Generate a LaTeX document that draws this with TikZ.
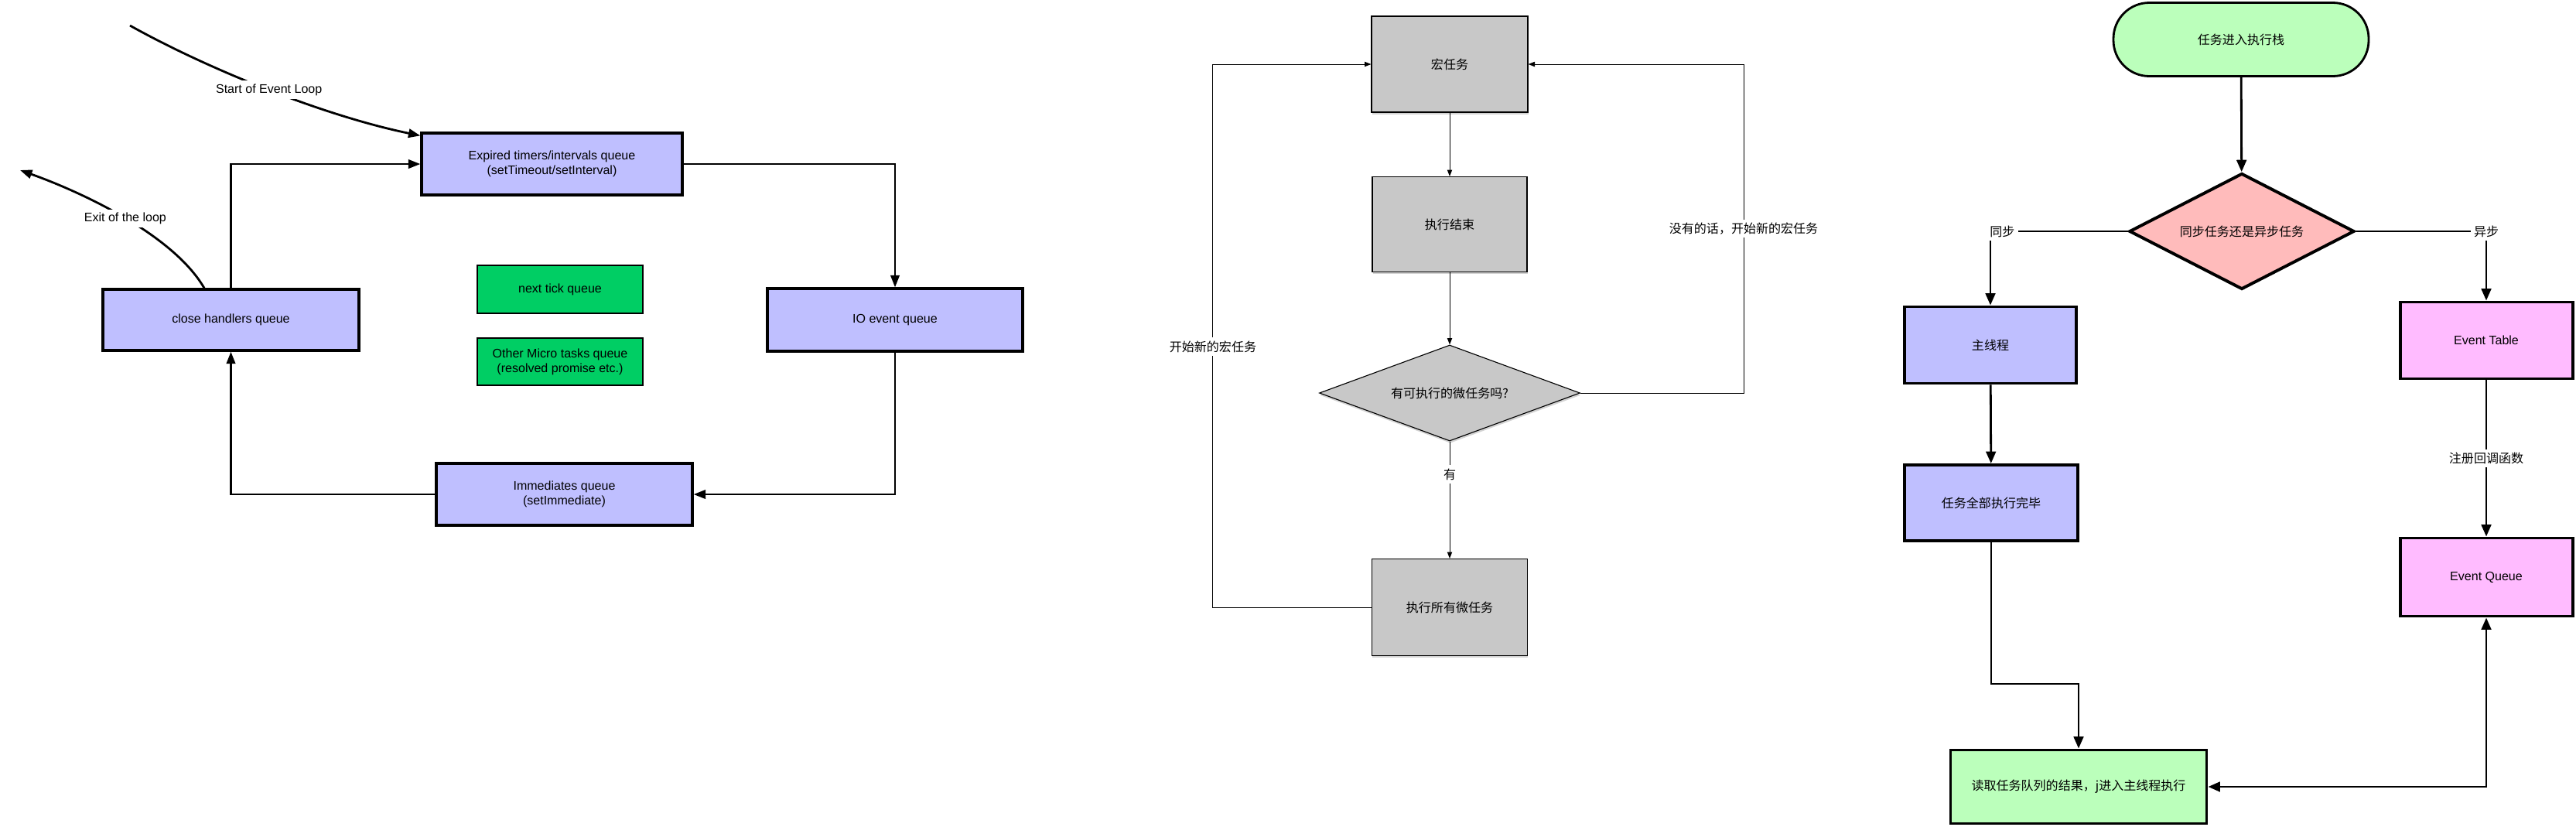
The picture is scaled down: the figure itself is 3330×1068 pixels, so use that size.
\documentclass[tikz,border=0pt]{standalone}
\usepackage{fontspec}
\setmainfont{Liberation Sans}
\newfontfamily\cjk{Noto Sans CJK SC}
\usetikzlibrary{arrows.meta,shapes.geometric,shadows}
\newcommand{\pxu}{0.025cm}
\definecolor{queueblue}{RGB}{191,191,255}
\definecolor{microgreen}{RGB}{0,206,100}
\definecolor{macrogray}{RGB}{200,200,200}
\definecolor{startgreen}{RGB}{187,255,187}
\definecolor{decpink}{RGB}{255,187,187}
\definecolor{eventpink}{RGB}{255,187,255}
\tikzset{
    boxsize/.style 2 args={minimum width=#1*\pxu, minimum height=#2*\pxu},
}
\begin{document}
\begin{tikzpicture}[x=\pxu, y=-\pxu,
    every node/.style={font=\fontsize{11.4}{13.6}\selectfont, align=center},
    loopbox/.style={draw, line width=2.2pt, fill=queueblue, inner sep=0pt},
    microbox/.style={draw, line width=1.6pt, fill=microgreen, inner sep=0pt},
    graybox/.style={draw, line width=0.8pt, fill=macrogray, inner sep=0pt,
        drop shadow={shadow xshift=0.5pt, shadow yshift=-2pt, opacity=0.35}},
    graydiamond/.style={graybox, diamond, aspect=2.7},
    stackbox/.style={draw, line width=2pt, fill=startgreen, rounded corners=33pt, inner sep=0pt},
    pinkdiamond/.style={draw, line width=2.8pt, fill=decpink, diamond, aspect=1.94, inner sep=0pt},
    rbox/.style={draw, line width=2.8pt, inner sep=0pt},
    edgetext/.style={fill=white, inner sep=3pt},
    flow/.style={line width=2pt, -{Triangle[length=11pt,width=8pt]}},
    thinflow/.style={line width=0.7pt, -{Triangle[length=6pt,width=4.5pt]}},
    rflow/.style={line width=2pt, -{Triangle[length=11pt,width=9pt]}}]
    \useasboundingbox (0,0) rectangle (3330,1068);

    % node event loop
    \node[loopbox, boxsize={337}{80}] (expired) at (713.5,212) {Expired timers/intervals queue\\(setTimeout/setInterval)};
    \node[loopbox, boxsize={330}{81}] (io) at (1157,413.5) {IO event queue};
    \node[loopbox, boxsize={331}{80}] (immediates) at (729.5,639) {Immediates queue\\(setImmediate)};
    \node[loopbox, boxsize={331}{79}] (closeq) at (298.5,413.5) {close handlers queue};
    \node[microbox, boxsize={214}{62}] (nexttick) at (724,374) {next tick queue};
    \node[microbox, boxsize={214}{61}] (othermicro) at (724,467.5) {Other Micro tasks queue\\(resolved promise etc.)};
    \coordinate (loopstart) at (168,33);
    \coordinate (loopexit) at (26,220);
    \draw[flow] (expired.east) -| (io.north);
    \draw[flow] (io.south) |- (immediates.east);
    \draw[flow] (immediates.west) -| (closeq.south);
    \draw[flow] (closeq.north) |- (expired.west);
    \draw[flow] (loopstart) .. controls (270,90) and (420,150) .. ([yshift=-3.5pt]expired.north west) node[pos=0.5, edgetext]{Start of Event Loop};
    \draw[flow] ([xshift=-24.5pt]closeq.north) .. controls (225,305) and (110,250) .. (loopexit) node[pos=0.5, edgetext]{Exit of the loop};

    % macro / micro tasks
    \node[graybox, boxsize={202}{124}] (macro) at (1874,83) {\cjk 宏任务};
    \node[graybox, boxsize={200}{123}] (done) at (1874,290) {\cjk 执行结束};
    \node[graydiamond, boxsize={337}{124}] (check) at (1874,508) {\cjk 有可执行的微任务吗?};
    \node[graybox, boxsize={201}{125}] (runmicro) at (1874,785) {\cjk 执行所有微任务};
    \draw[thinflow] (macro) -- (done);
    \draw[thinflow] (done) -- (check);
    \draw[thinflow] (check) -- node[pos=0.28, edgetext]{\cjk 有} (runmicro);
    \draw[thinflow] (check.east) -- ++(211,0) |- node[pos=0.25, edgetext]{\cjk 没有的话，开始新的宏任务} (macro.east);
    \draw[thinflow] (runmicro.west) -- ++(-205,0) |- node[pos=0.24, edgetext]{\cjk 开始新的宏任务} (macro.west);

    % sync / async
    \node[stackbox, boxsize={330}{95}] (stack) at (2897,51) {\cjk 任务进入执行栈};
    \node[pinkdiamond, boxsize={291}{150}] (sync) at (2898,299) {\cjk 同步任务还是异步任务};
    \node[rbox, fill=queueblue, boxsize={222}{99}] (mainth) at (2573,446) {\cjk 主线程};
    \node[rbox, fill=eventpink, boxsize={223}{99}] (table) at (3214,440) {Event Table};
    \node[rbox, fill=queueblue, boxsize={224}{98}] (alldone) at (2574,650) {\cjk 任务全部执行完毕};
    \node[rbox, fill=eventpink, boxsize={223}{101}] (eventq) at (3214,746) {Event Queue};
    \node[rbox, fill=startgreen, boxsize={331}{95}] (readq) at (2687,1017) {\cjk 读取任务队列的结果，j进入主线程执行};
    \draw[rflow] (stack) -- (sync);
    \draw[rflow] (sync.west) -| node[pos=0.5, edgetext, xshift=11pt]{\cjk 同步} (mainth.north);
    \draw[rflow] (sync.east) -| node[pos=0.5, edgetext]{\cjk 异步} (table.north);
    \draw[rflow] (mainth) -- (alldone);
    \draw[rflow] (alldone.south) -- ++(0,183) -| (readq.north);
    \draw[rflow] (table) -- node[edgetext]{\cjk 注册回调函数} (eventq);
    \draw[rflow, {Triangle[length=11pt,width=9pt]}-{Triangle[length=11pt,width=9pt]}] (readq.east) -| (eventq.south);
\end{tikzpicture}
\end{document}
